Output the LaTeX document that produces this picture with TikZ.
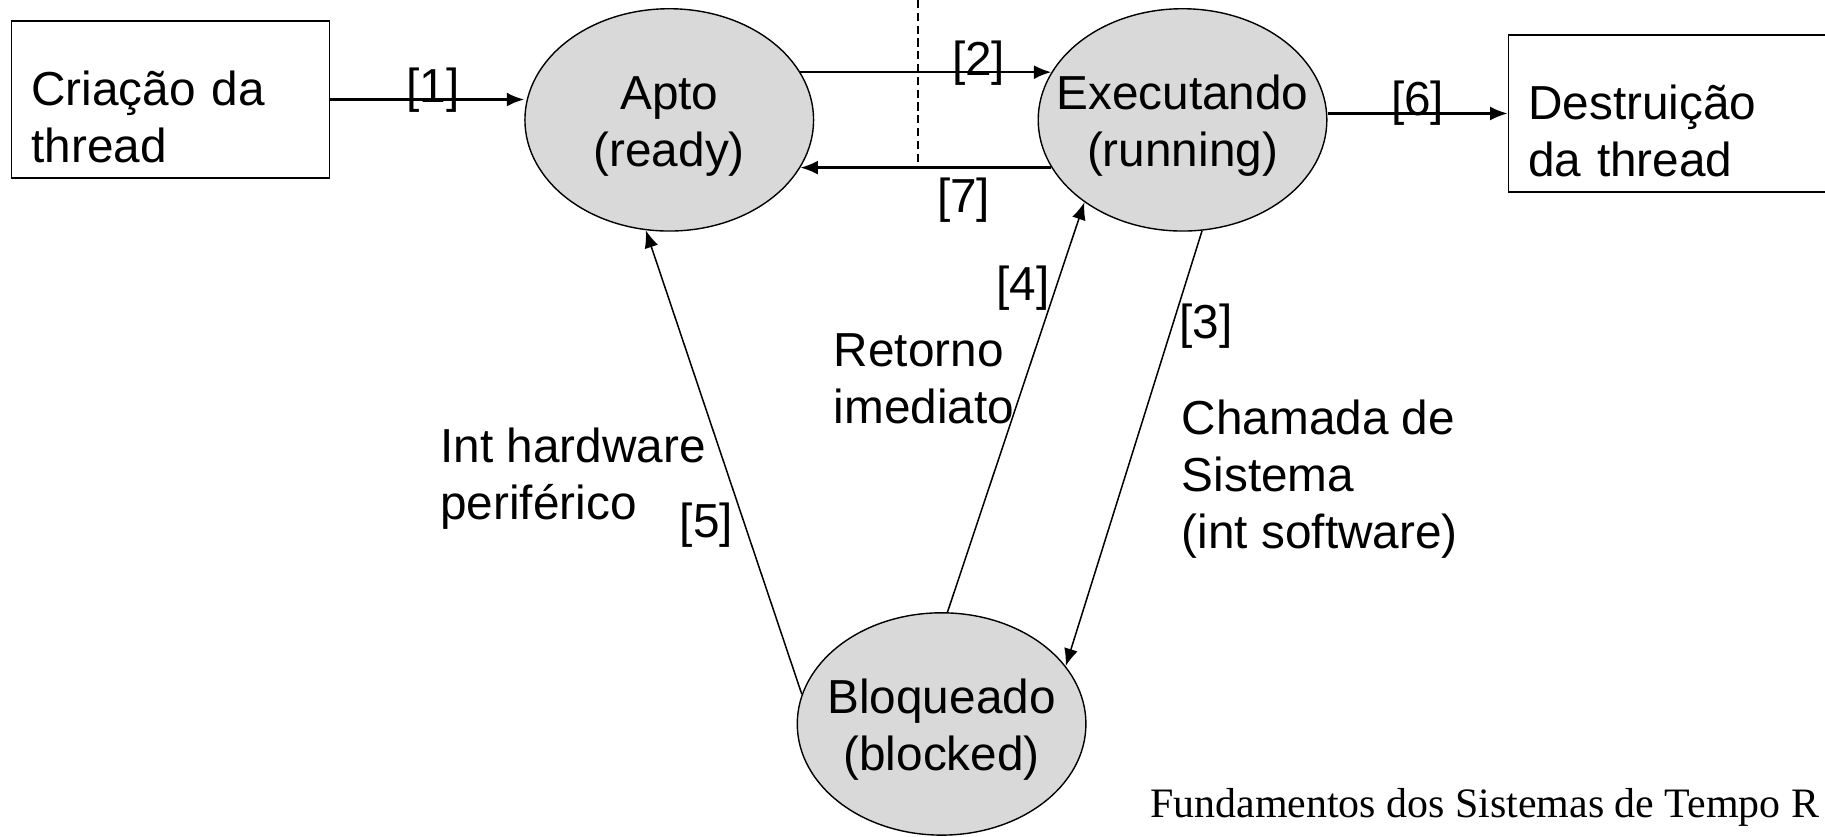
\documentclass[tikz,border=0pt]{standalone}
\usepackage{fontspec}
\setmainfont{Liberation Sans}
\newfontfamily\footfont{Liberation Serif}
\usepackage{tikz}
\usetikzlibrary{arrows.meta, shapes, calc, positioning}

\begin{document}
\begin{tikzpicture}[
	x=0.5pt, y=-0.5pt,
	every node/.style = {font=\fontsize{20.5}{24.5}\selectfont},
	state/.style = {shape=ellipse, draw, line width=0.6pt, fill=gray!30,
	minimum width=124pt, minimum height=95.5pt, inner xsep=-20pt, align=center,
	text height=44pt, text depth=4pt},
	threadbox/.style = {shape=rectangle, draw, line width=0.7pt, align=left,
	inner xsep=8.5pt, minimum height=67.5pt, text height=15pt, text depth=10pt},
	note/.style = {align=left, inner sep=0pt, anchor=west},
	lbl/.style = {inner sep=0pt},
	trans/.style = {-{Latex[length=7.5pt, width=6pt]}, line width=1pt},
	slant/.style = {-{Latex[length=7.5pt, width=6pt]}, line width=0.65pt}
]
\useasboundingbox (0,0) rectangle (1568,719);
\node[threadbox, text width=119.5pt] (crea) at (146.5,85.5) {Criação da\\thread};
\node[threadbox, text width=133pt] (destr) at (1446,97.5) {Destruição\\da thread};
\node[state] (apto) at (575,103) {Apto\\(ready)};
\node[state] (exec) at (1016,103) {Executando\\(running)};
\node[state] (blocked) at (809,622) {Bloqueado\\(blocked)};
\coordinate (cut) at (789,0);

\draw[trans] (crea.east) -- (crea.east -| apto.west)
	node[lbl, pos=.53, yshift=4pt] (l1) {[1]};
\draw[trans] (apto.20) -- (exec.160)
	node[lbl, pos=.71, yshift=4pt] (l2) {[2]};
\draw[trans] (exec.200) -- (apto.-20)
	node[lbl, pos=.35, yshift=-14pt] (l7) {[7]};
\draw[trans] (destr.west -| exec.east) -- (destr.west)
	node[lbl, pos=.5, yshift=4.5pt] (l6) {[6]};
\draw[slant] (blocked.87) -- (exec.220)
	node[lbl, pos=.79, xshift=-14pt] (l4) {[4]};
\draw[slant] (exec.-80) -- (blocked.25)
	node[lbl, pos=.22, xshift=14.5pt] (l3) {[3]};
\draw[slant] (blocked.168) -- (apto.258)
	node[lbl, pos=.365, xshift=-16.5pt] (l5) {[5]};
\draw[line width=0.8pt, dash pattern=on 3.5pt off 2pt] (cut) -- (cut |- apto.-20);

\node[note] (hw) at (378,411) {Int hardware\\periférico};
\node[note] (ret) at (716,325.5) {Retorno\\imediato};
\node[note] (sys) at (1015,412) {Chamada de\\Sistema\\(int software)};
\node[anchor=base west, inner sep=0pt, font=\footfont\fontsize{18}{21}\selectfont] (foot) at (988,702)
	{Fundamentos dos Sistemas de Tempo R};
\end{tikzpicture}
\end{document}
